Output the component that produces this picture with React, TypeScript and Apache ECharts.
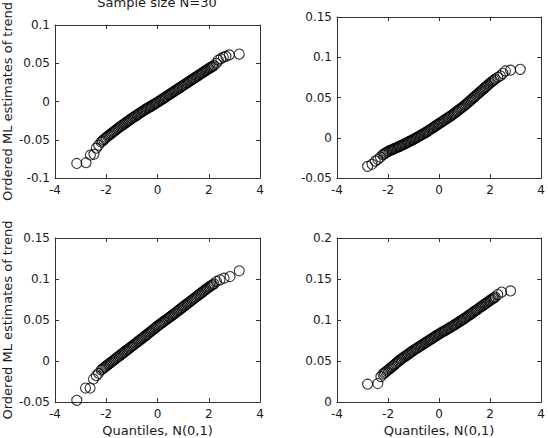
import React, { useEffect, useRef } from "react";
import * as echarts from "echarts";

// Normal quantiles (x) for the dense central band, shared by all panels
const bandQuantiles = [
  -2.2, -2.15, -2.1, -2.05, -2, -1.95, -1.9, -1.85, -1.8, -1.75, -1.7, -1.65, -1.6, -1.55, -1.5,
  -1.45, -1.4, -1.35, -1.3, -1.25, -1.2, -1.15, -1.1, -1.05, -1, -0.95, -0.9, -0.85, -0.8, -0.75,
  -0.7, -0.65, -0.6, -0.55, -0.5, -0.45, -0.4, -0.35, -0.3, -0.25, -0.2, -0.15, -0.1, -0.05, 0,
  0.05, 0.1, 0.15, 0.2, 0.25, 0.3, 0.35, 0.4, 0.45, 0.5, 0.55, 0.6, 0.65, 0.7, 0.75, 0.8, 0.85,
  0.9, 0.95, 1, 1.05, 1.1, 1.15, 1.2, 1.25, 1.3, 1.35, 1.4, 1.45, 1.5, 1.55, 1.6, 1.65, 1.7, 1.75,
  1.8, 1.85, 1.9, 1.95, 2, 2.05, 2.1, 2.15, 2.2,
];

// Panel 1 (top-left)
const panel1Band = [
  -0.053, -0.0515, -0.05, -0.0485, -0.047,
  -0.0457, -0.0444, -0.0431, -0.0418, -0.0405, -0.0392, -0.0379, -0.0366, -0.0353, -0.034,
  -0.0328, -0.0316, -0.0304, -0.0292, -0.028, -0.0268, -0.0256, -0.0244, -0.0232, -0.022,
  -0.0209, -0.0198, -0.0187, -0.0176, -0.0165, -0.0154, -0.0143, -0.0132, -0.0121, -0.011,
  -0.01, -0.009, -0.008, -0.007, -0.006, -0.005, -0.004, -0.003, -0.002, -0.001,
  0.0001, 0.0012, 0.0023, 0.0034, 0.0045, 0.0056, 0.0067, 0.0078, 0.0089, 0.01,
  0.0111, 0.0122, 0.0133, 0.0144, 0.0155, 0.0166, 0.0177, 0.0188, 0.0199, 0.021,
  0.0221, 0.0232, 0.0243, 0.0254, 0.0265, 0.0276, 0.0287, 0.0298, 0.0309, 0.032,
  0.0331, 0.0342, 0.0353, 0.0364, 0.0375, 0.0386, 0.0397, 0.0408, 0.0419, 0.043,
  0.044, 0.045, 0.046, 0.047,
];
const panel1TailX = [-3.15, -2.79, -2.62, -2.48, -2.39, -2.3, 2.3, 2.37, 2.47, 2.57, 2.67, 2.8, 3.19];
const panel1TailY = [-0.081, -0.08, -0.07, -0.069, -0.061, -0.057, 0.05, 0.054, 0.056, 0.058, 0.059, 0.061, 0.062];

// Panel 2 (top-right)
const panel2Band = [
  -0.021, -0.02, -0.019, -0.018, -0.017,
  -0.0163, -0.0156, -0.0149, -0.0142, -0.0135, -0.0128, -0.0121, -0.0114, -0.0107, -0.01,
  -0.0092, -0.0084, -0.0076, -0.0068, -0.006, -0.0052, -0.0044, -0.0036, -0.0028, -0.002,
  -0.0011, -0.0002, 0.0007, 0.0016, 0.0025, 0.0034, 0.0043, 0.0052, 0.0061, 0.007,
  0.0081, 0.0091, 0.0102, 0.0112, 0.0123, 0.0133, 0.0144, 0.0154, 0.0165, 0.0175,
  0.0186, 0.0196, 0.0207, 0.0217, 0.0228, 0.0238, 0.0249, 0.0259, 0.027, 0.028,
  0.0292, 0.0304, 0.0316, 0.0328, 0.034, 0.0352, 0.0364, 0.0376, 0.0388, 0.04,
  0.0414, 0.0428, 0.0442, 0.0456, 0.047, 0.0484, 0.0498, 0.0512, 0.0526, 0.054,
  0.0554, 0.0568, 0.0582, 0.0596, 0.061, 0.0624, 0.0638, 0.0652, 0.0666, 0.068,
  0.0693, 0.0705, 0.0718, 0.073,
];
const panel2TailX = [-2.8, -2.63, -2.5, -2.4, -2.3, 2.3, 2.4, 2.5, 2.6, 2.8, 3.18];
const panel2TailY = [-0.0355, -0.033, -0.029, -0.027, -0.024, 0.075, 0.077, 0.08, 0.083, 0.084, 0.085];

// Panel 3 (bottom-left)
const panel3Band = [
  -0.011, -0.0098, -0.0085, -0.0073, -0.006,
  -0.0048, -0.0036, -0.0024, -0.0012, 0, 0.0012, 0.0024, 0.0036, 0.0048, 0.006,
  0.0072, 0.0084, 0.0096, 0.0108, 0.012, 0.0132, 0.0144, 0.0156, 0.0168, 0.018,
  0.0192, 0.0204, 0.0216, 0.0228, 0.024, 0.0252, 0.0264, 0.0276, 0.0288, 0.03,
  0.0313, 0.0325, 0.0338, 0.035, 0.0363, 0.0375, 0.0388, 0.04, 0.0413, 0.0425,
  0.0437, 0.0448, 0.046, 0.0471, 0.0483, 0.0494, 0.0506, 0.0517, 0.0529, 0.054,
  0.0552, 0.0564, 0.0576, 0.0588, 0.06, 0.0612, 0.0624, 0.0636, 0.0648, 0.066,
  0.0672, 0.0684, 0.0696, 0.0708, 0.072, 0.0732, 0.0744, 0.0756, 0.0768, 0.078,
  0.0792, 0.0804, 0.0816, 0.0828, 0.084, 0.0852, 0.0864, 0.0876, 0.0888, 0.09,
  0.091, 0.092, 0.093, 0.094,
];
const panel3TailX = [-3.15, -2.81, -2.63, -2.5, -2.39, -2.3, 2.3, 2.44, 2.6, 2.83, 3.19];
const panel3TailY = [-0.048, -0.033, -0.033, -0.022, -0.018, -0.015, 0.097, 0.099, 0.101, 0.103, 0.11];

// Panel 4 (bottom-right)
const panel4Band = [
  0.034, 0.0353, 0.0365, 0.0378, 0.039,
  0.0403, 0.0416, 0.0429, 0.0442, 0.0455, 0.0468, 0.0481, 0.0494, 0.0507, 0.052,
  0.0531, 0.0542, 0.0553, 0.0564, 0.0575, 0.0586, 0.0597, 0.0608, 0.0619, 0.063,
  0.064, 0.065, 0.066, 0.067, 0.068, 0.069, 0.07, 0.071, 0.072, 0.073,
  0.074, 0.075, 0.076, 0.077, 0.078, 0.079, 0.08, 0.081, 0.082, 0.083,
  0.0839, 0.0848, 0.0857, 0.0866, 0.0875, 0.0884, 0.0893, 0.0902, 0.0911, 0.092,
  0.093, 0.094, 0.095, 0.096, 0.097, 0.098, 0.099, 0.1, 0.101, 0.102,
  0.1031, 0.1042, 0.1053, 0.1064, 0.1075, 0.1086, 0.1097, 0.1108, 0.1119, 0.113,
  0.1141, 0.1152, 0.1163, 0.1174, 0.1185, 0.1196, 0.1207, 0.1218, 0.1229, 0.124,
  0.125, 0.126, 0.127, 0.128,
];
const panel4TailX = [-2.8, -2.4, -2.28, 2.3, 2.45, 2.8];
const panel4TailY = [0.0217, 0.0225, 0.031, 0.131, 0.134, 0.1355];

// Axis ranges
const xRange = { min: -4, max: 4, interval: 2 };
const yRanges = [
  { min: -0.1, max: 0.1, interval: 0.05 },
  { min: -0.05, max: 0.15, interval: 0.05 },
  { min: -0.05, max: 0.15, interval: 0.05 },
  { min: 0, max: 0.2, interval: 0.05 },
];

const titleText = "Sample size N=30";
const yName = "Ordered ML estimates of trend";
const xName = "Quantiles, N(0,1)";

const FONT = "DejaVu Sans";
const AXIS_COLOR = "#333";
const TEXT_COLOR = "#1a1a1a";

const grids = [
  { left: 55, top: 17, width: 205, height: 161 },
  { left: 337, top: 17, width: 205, height: 161 },
  { left: 55, top: 238, width: 205, height: 164 },
  { left: 337, top: 238, width: 205, height: 164 },
];

function zip(xs: number[], ys: number[]) {
  return xs.map((x, i) => [x, ys[i]]);
}

export default function App() {
  const ref = useRef<HTMLDivElement>(null);
  useEffect(() => {
    document.body.style.margin = "0";
    if (!ref.current) return;
    const chart = echarts.init(ref.current, null, { renderer: "svg" });

    const panels = [
      { band: panel1Band, tx: panel1TailX, ty: panel1TailY },
      { band: panel2Band, tx: panel2TailX, ty: panel2TailY },
      { band: panel3Band, tx: panel3TailX, ty: panel3TailY },
      { band: panel4Band, tx: panel4TailX, ty: panel4TailY },
    ];

    const xAxes: any[] = [];
    const yAxes: any[] = [];
    const series: any[] = [];

    const lineStyle = { color: AXIS_COLOR, width: 1 };
    const labelStyle = { color: TEXT_COLOR, fontFamily: FONT, fontSize: 12 };
    const nameStyle = { color: TEXT_COLOR, fontFamily: FONT, fontSize: 13 };

    panels.forEach((p, i) => {
      const bottomRow = i >= 2;
      const leftCol = i % 2 === 0;
      xAxes.push({
        type: "value",
        gridIndex: i,
        position: "bottom",
        ...xRange,
        axisLine: { show: true, onZero: false, lineStyle },
        axisTick: { show: true, inside: true, length: 4, lineStyle },
        axisLabel: { show: true, margin: 6, showMinLabel: true, showMaxLabel: true, ...labelStyle },
        splitLine: { show: false },
        name: bottomRow ? xName : "",
        nameLocation: "middle",
        nameGap: 22,
        nameTextStyle: nameStyle,
      });
      xAxes.push({
        type: "value",
        gridIndex: i,
        position: "top",
        ...xRange,
        axisLine: { show: true, onZero: false, lineStyle },
        axisTick: { show: true, inside: true, length: 4, lineStyle },
        axisLabel: { show: false },
        splitLine: { show: false },
      });
      yAxes.push({
        type: "value",
        gridIndex: i,
        position: "left",
        ...yRanges[i],
        axisLine: { show: true, onZero: false, lineStyle },
        axisTick: { show: true, inside: true, length: 4, lineStyle },
        axisLabel: { show: true, margin: 5, showMinLabel: true, showMaxLabel: true, ...labelStyle },
        splitLine: { show: false },
        name: leftCol ? yName : "",
        nameLocation: "middle",
        nameRotate: 90,
        nameGap: 41,
        nameTextStyle: nameStyle,
      });
      yAxes.push({
        type: "value",
        gridIndex: i,
        position: "right",
        ...yRanges[i],
        axisLine: { show: true, onZero: false, lineStyle },
        axisTick: { show: true, inside: true, length: 4, lineStyle },
        axisLabel: { show: false },
        splitLine: { show: false },
      });
      series.push({
        type: "scatter",
        xAxisIndex: 2 * i,
        yAxisIndex: 2 * i,
        symbol: "circle",
        symbolSize: 10,
        itemStyle: { color: "rgba(0,0,0,0)", borderColor: "#000", borderWidth: 1.1 },
        data: [...zip(bandQuantiles, p.band), ...zip(p.tx, p.ty)],
        silent: true,
      });
    });

    chart.setOption({
      animation: false,
      backgroundColor: "#fff",
      grid: grids.map((g) => ({ ...g, containLabel: false })),
      xAxis: xAxes,
      yAxis: yAxes,
      series,
      graphic: [
        {
          type: "text",
          x: 157,
          y: 9,
          style: {
            text: titleText,
            fill: TEXT_COLOR,
            font: `13px "${FONT}"`,
            textAlign: "center",
            textVerticalAlign: "bottom",
          },
        },
      ],
    });
    return () => chart.dispose();
  }, []);
  return <div ref={ref} style={{ width: 548, height: 438, position: "absolute", left: 0, top: 0 }} />;
}
